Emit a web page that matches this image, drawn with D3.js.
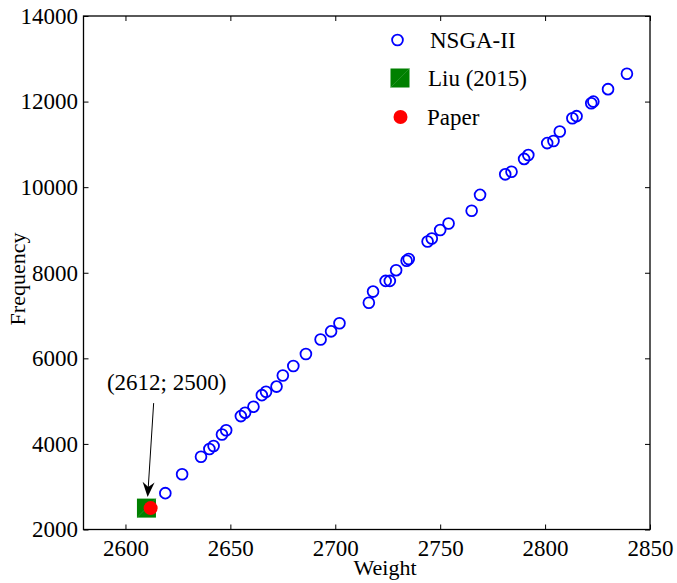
<!DOCTYPE html>
<html>
<head>
<meta charset="utf-8">
<script src="https://cdn.jsdelivr.net/npm/d3@7"></script>
<style>
  html, body { margin: 0; padding: 0; background: #fff; }
  svg { display: block; }
  svg text { font-family: "Liberation Serif", "Times New Roman", serif; fill: #000; }
</style>
</head>
<body>
<svg id="chart" width="677" height="583"></svg>
<script>
// Pareto front from NSGA-II: weight vs. frequency
const nsgaWeight = [2612, 2619, 2627, 2636, 2640, 2642, 2646, 2648, 2655, 2657,
  2661, 2665, 2667, 2672, 2675, 2680, 2686, 2693, 2698, 2702,
  2716, 2718, 2724, 2726, 2729, 2734, 2735, 2744, 2746, 2750,
  2754, 2765, 2769, 2781, 2784, 2790, 2792, 2801, 2804, 2807,
  2813, 2815, 2822, 2823, 2830, 2839];
const nsgaFreq = [2510, 2850, 3290, 3700, 3880, 3950, 4220, 4320, 4650, 4730,
  4870, 5140, 5220, 5340, 5600, 5820, 6100, 6440, 6630, 6820,
  7300, 7560, 7810, 7810, 8060, 8280, 8320, 8730, 8800, 9000,
  9150, 9450, 9820, 10300, 10360, 10660, 10750, 11030, 11080, 11300,
  11610, 11660, 11960, 12000, 12290, 12650];

// Reference designs
const liuWeight = [2610];
const liuFreq = [2500];
const paperWeight = [2612];
const paperFreq = [2500];

// Axes
const xDomain = [2580, 2850];
const yDomain = [2000, 14000];
const xTicks = [2600, 2650, 2700, 2750, 2800, 2850];
const yTicks = [2000, 4000, 6000, 8000, 10000, 12000, 14000];

const legendLabels = ["NSGA-II", "Liu (2015)", "Paper"];
const annotationText = "(" + paperWeight[0] + "; " + paperFreq[0] + ")";

const W = 677, H = 583;
const margin = { left: 83.5, top: 16, right: 27, bottom: 53.5 };
const svg = d3.select("#chart");
const serif = "'Liberation Serif', 'Times New Roman', serif";

const x = d3.scaleLinear().domain(xDomain).range([margin.left, W - margin.right]);
const y = d3.scaleLinear().domain(yDomain).range([H - margin.bottom, margin.top]);

const fontSize = 23;
const titleSize = 22;
const tickLen = 5;

// Frame with inward ticks on all four sides
const axisStyle = g => {
  g.attr("font-family", serif).attr("font-size", fontSize);
  g.select(".domain").remove();
  g.selectAll("line").attr("stroke", "#000").attr("stroke-width", 1);
  g.selectAll("text").attr("fill", "#000");
};

svg.append("g")
  .attr("transform", `translate(0,${y.range()[0]})`)
  .call(d3.axisBottom(x).tickValues(xTicks).tickFormat(d3.format("d")).tickSizeInner(-tickLen).tickSizeOuter(0).tickPadding(10.5))
  .call(axisStyle);

svg.append("g")
  .attr("transform", `translate(0,${y.range()[1]})`)
  .call(d3.axisTop(x).tickValues(xTicks).tickFormat("").tickSizeInner(-tickLen).tickSizeOuter(0))
  .call(axisStyle);

svg.append("g")
  .attr("transform", `translate(${x.range()[0]},0)`)
  .call(d3.axisLeft(y).tickValues(yTicks).tickFormat(d3.format("d")).tickSizeInner(-tickLen).tickSizeOuter(0).tickPadding(5.5))
  .call(axisStyle);

svg.append("g")
  .attr("transform", `translate(${x.range()[1]},0)`)
  .call(d3.axisRight(y).tickValues(yTicks).tickFormat("").tickSizeInner(-tickLen).tickSizeOuter(0))
  .call(axisStyle);

svg.append("rect")
  .attr("x", x.range()[0]).attr("y", y.range()[1])
  .attr("width", x.range()[1] - x.range()[0])
  .attr("height", y.range()[0] - y.range()[1])
  .attr("fill", "none").attr("stroke", "#000").attr("stroke-width", 1.3);

// Axis titles
svg.append("text")
  .attr("x", 385).attr("y", 575)
  .attr("text-anchor", "middle").attr("font-size", titleSize)
  .text("Weight");

svg.append("text")
  .attr("transform", "translate(25,279) rotate(-90)")
  .attr("text-anchor", "middle").attr("font-size", titleSize)
  .text("Frequency");

// NSGA-II solutions
const nsga = nsgaWeight.map((w, i) => ({ w, f: nsgaFreq[i] }));
const circleR = 5.4;
svg.append("g").selectAll("circle")
  .data(nsga).join("circle")
  .attr("cx", d => x(d.w)).attr("cy", d => y(d.f))
  .attr("r", circleR)
  .attr("fill", "none").attr("stroke", "#0000ff").attr("stroke-width", 1.8);

// Square marker drawn as a filled green square
const sq = 19;
function drawSquare(g, cx, cy) {
  g.append("rect")
    .attr("x", cx - sq / 2).attr("y", cy - sq / 2)
    .attr("width", sq).attr("height", sq)
    .attr("fill", "#008000");
  g.append("line")
    .attr("x1", cx - sq / 2).attr("y1", cy + sq / 2)
    .attr("x2", cx + sq / 2).attr("y2", cy - sq / 2)
    .attr("stroke", "#3a9a3a").attr("stroke-width", 0.6);
}
const liuG = svg.append("g");
liuWeight.forEach((w, i) => drawSquare(liuG, x(w), y(liuFreq[i])));

// Paper design
const dotR = 7;
svg.append("g").selectAll("circle")
  .data(paperWeight.map((w, i) => ({ w, f: paperFreq[i] })))
  .join("circle")
  .attr("cx", d => x(d.w)).attr("cy", d => y(d.f))
  .attr("r", dotR).attr("fill", "#ff0000");

// Annotation arrow pointing at the paper design
const px = x(paperWeight[0]), py = y(paperFreq[0]);
const tipX = px - 3, tipY = py - 11;
const tailX = px + 3, tailY = py - 105;
const ang = Math.atan2(tipY - tailY, tipX - tailX);
const headL = 15, headW = 6, back = 10;
const ux = Math.cos(ang), uy = Math.sin(ang);
const nx = -uy, ny = ux;
svg.append("line")
  .attr("x1", tailX).attr("y1", tailY)
  .attr("x2", tipX - ux * back).attr("y2", tipY - uy * back)
  .attr("stroke", "#000").attr("stroke-width", 1);
svg.append("path")
  .attr("d", d3.line()([
    [tipX, tipY],
    [tipX - ux * headL + nx * headW, tipY - uy * headL + ny * headW],
    [tipX - ux * back, tipY - uy * back],
    [tipX - ux * headL - nx * headW, tipY - uy * headL - ny * headW]
  ]) + "Z")
  .attr("fill", "#000");

svg.append("text")
  .attr("x", tailX + 13).attr("y", tailY - 13)
  .attr("text-anchor", "middle").attr("font-size", fontSize)
  .text(annotationText);

// Legend
const legend = svg.append("g");
legend.append("circle")
  .attr("cx", 397.5).attr("cy", 40).attr("r", circleR)
  .attr("fill", "none").attr("stroke", "#0000ff").attr("stroke-width", 1.8);
legend.append("text").attr("x", 430).attr("y", 48).attr("font-size", fontSize).text(legendLabels[0]);
drawSquare(legend, 400, 78);
legend.append("text").attr("x", 428).attr("y", 85.5).attr("font-size", fontSize).text(legendLabels[1]);
legend.append("circle").attr("cx", 400.5).attr("cy", 117).attr("r", dotR).attr("fill", "#ff0000");
legend.append("text").attr("x", 427).attr("y", 125).attr("font-size", fontSize).text(legendLabels[2]);
</script>
</body>
</html>
